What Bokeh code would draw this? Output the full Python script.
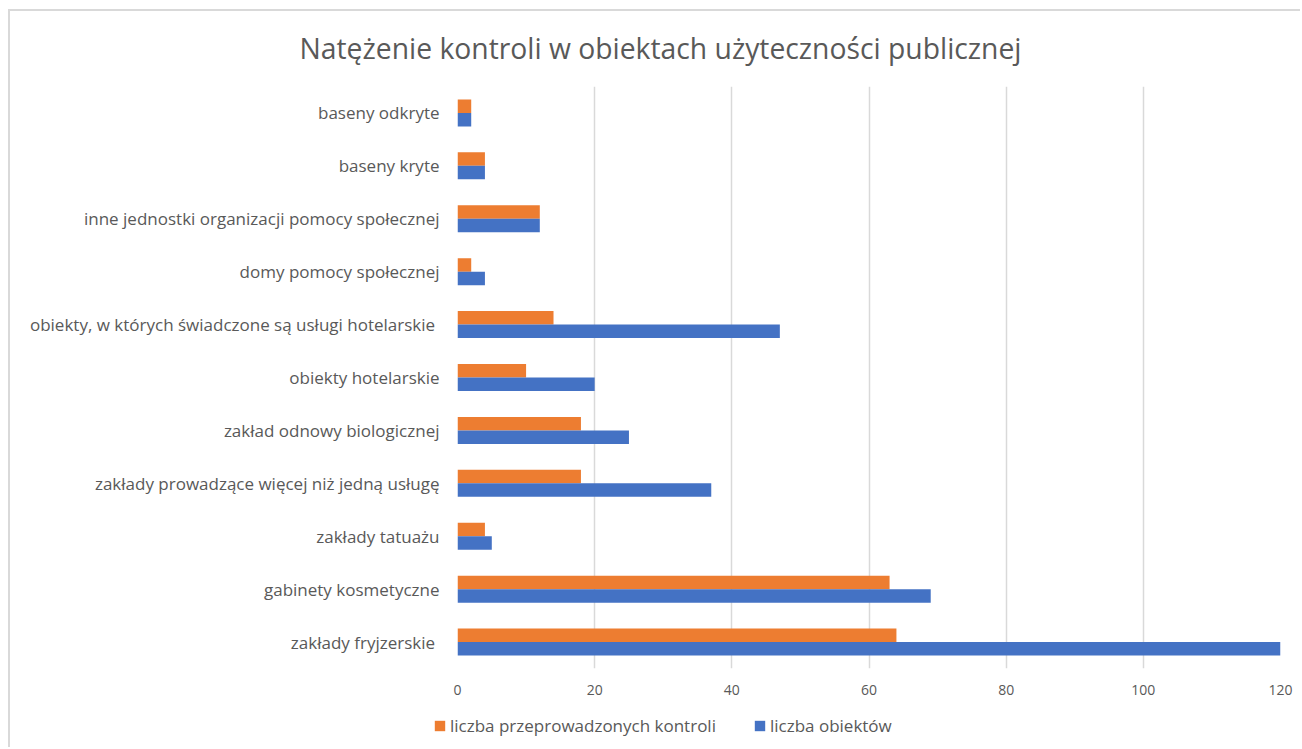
from bokeh.plotting import figure
from bokeh.layouts import column
from bokeh.models import FactorRange, Range1d, Legend, LegendItem, ColumnDataSource, FixedTicker, Label
from bokeh.transform import dodge
from bokeh.embed import file_html
from bokeh.resources import INLINE

# categories from bottom to top
categories = [
    "zakłady fryjzerskie ",
    "gabinety kosmetyczne",
    "zakłady tatuażu",
    "zakłady prowadzące więcej niż jedną usługę",
    "zakład odnowy biologicznej",
    "obiekty hotelarskie",
    "obiekty, w których świadczone są usługi hotelarskie ",
    "domy pomocy społecznej",
    "inne jednostki organizacji pomocy społecznej",
    "baseny kryte",
    "baseny odkryte",
]
kontrole = [64, 63, 4, 18, 18, 10, 14, 2, 12, 4, 2]
obiekty = [120, 69, 5, 37, 25, 20, 47, 4, 12, 4, 2]
series_names = ["liczba przeprowadzonych kontroli", "liczba obiektów"]
x_ticks = [0, 20, 40, 60, 80, 100, 120]
title_text = "Natężenie kontroli w obiektach użyteczności publicznej"

ORANGE = "#ED7D31"
BLUE = "#4472C4"
GRAY_TEXT = "#595959"
FONT = "Open Sans"

W = 1290
TOP_H, MAIN_H, LEG_H = 75, 625, 36

src = ColumnDataSource(dict(cat=categories, kontrole=kontrole, obiekty=obiekty))


def bare(height):
    f = figure(width=W, height=height, output_backend="svg", toolbar_location=None,
               x_axis_type=None, y_axis_type=None, frame_align=False,
               x_range=Range1d(-2, -1), y_range=Range1d(-2, -1),
               min_border_left=0, min_border_right=0, min_border_top=0, min_border_bottom=0)
    f.outline_line_color = None
    f.xgrid.visible = False
    f.ygrid.visible = False
    return f


# --- title strip ---
top = bare(TOP_H)
top.add_layout(Label(x=650, y=TOP_H - 36, x_units="screen", y_units="screen",
                     text=title_text, text_align="center", text_baseline="middle",
                     text_font=FONT, text_font_size="28.3px", text_color=GRAY_TEXT))

# --- main chart ---
fig = figure(
    width=W, height=MAIN_H,
    y_range=FactorRange(*categories, range_padding=0),
    x_range=Range1d(0, 120),
    output_backend="svg", toolbar_location=None, frame_align=False,
    min_border_left=447, min_border_right=W - 1270,
    min_border_top=0, min_border_bottom=MAIN_H - 582,
)
bh = 0.255
fig.hbar(y=dodge("cat", bh / 2, range=fig.y_range), right="kontrole", left=0, height=bh,
         source=src, fill_color=ORANGE, line_color=None)
fig.hbar(y=dodge("cat", -bh / 2, range=fig.y_range), right="obiekty", left=0, height=bh,
         source=src, fill_color=BLUE, line_color=None)

fig.outline_line_color = None
fig.ygrid.grid_line_color = None
fig.xgrid.grid_line_color = "#d9d9d9"
fig.xgrid.grid_line_width = 1.5
fig.xaxis.ticker = FixedTicker(ticks=x_ticks)
for ax in (fig.xaxis, fig.yaxis):
    ax.axis_line_color = None
    ax.major_tick_line_color = None
    ax.minor_tick_line_color = None
    ax.major_label_text_color = GRAY_TEXT
    ax.major_label_text_font = FONT
fig.xaxis.major_label_text_font_size = "14px"
fig.xaxis.major_label_standoff = 10
fig.yaxis.major_label_text_font_size = "17px"
fig.yaxis.major_label_standoff = 12

# --- legend strip (its swatches come from the same series, drawn out of view) ---
leg = bare(LEG_H)
k = leg.hbar(y="kontrole", right="kontrole", left=0, height=0.5, source=src,
             fill_color=ORANGE, line_color=None)
o = leg.hbar(y="obiekty", right="obiekty", left=0, height=0.5, source=src,
             fill_color=BLUE, line_color=None)
legend = Legend(
    items=[LegendItem(label=series_names[0], renderers=[k]),
           LegendItem(label=series_names[1], renderers=[o])],
    orientation="horizontal", location=(423, 10),
    glyph_width=13, glyph_height=13, label_standoff=4, spacing=37,
    padding=0, margin=0, border_line_color=None, background_fill_alpha=0,
    label_text_font=FONT, label_text_font_size="17px", label_text_color=GRAY_TEXT,
    label_height=20,
)
leg.add_layout(legend, "center")

p = column(top, fig, leg, spacing=0)
p.styles = {"margin-left": "8px", "margin-top": "9px",
            "border-left": "2px solid #d9d9d9", "border-top": "2px solid #d9d9d9"}

open("out.html", "w").write(file_html(p, INLINE))
